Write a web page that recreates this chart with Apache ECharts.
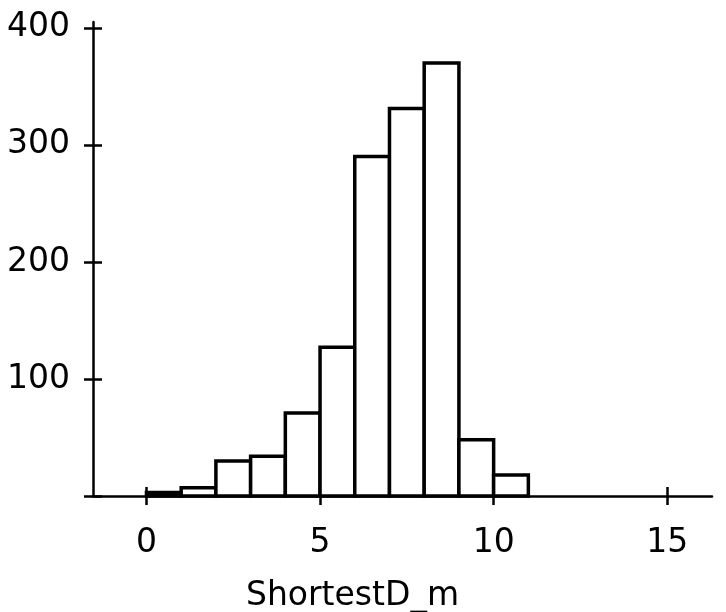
<!DOCTYPE html>
<html>
<head>
<meta charset="utf-8">
<script src="https://cdn.jsdelivr.net/npm/echarts@6/dist/echarts.min.js"></script>
<style>html,body{margin:0;padding:0;background:#fff;}#c{width:726px;height:612px;}</style>
</head>
<body>
<div id="c"></div>
<script>
const binStarts = [0, 1, 2, 3, 4, 5, 6, 7, 8, 9, 10];
const binEnds   = [1, 2, 3, 4, 5, 6, 7, 8, 9, 10, 11];
const counts    = [3, 7, 30, 34, 71, 127, 290, 331, 370, 48, 18];
const xTicks = [0, 5, 10, 15];
const yTicks = [0, 100, 200, 300, 400];
const yLabels = [100, 200, 300, 400];
const xName = 'ShortestD_m';

const data = binStarts.map((s, i) => [s, binEnds[i], counts[i]]);
const FONT = 'DejaVu Sans';
const chart = echarts.init(document.getElementById('c'), null, {renderer: 'canvas'});
const xMin = -1.54, xMax = 16.29, yMin = 0, yMax = 405;
const lineStyle = {color: '#000', width: 2.5};
chart.setOption({
  animation: false,
  backgroundColor: '#fff',
  grid: {left: 93, right: 14, top: 22, bottom: 116, containLabel: false, outerBoundsMode: 'none'},
  xAxis: [{
    type: 'value', min: xMin, max: xMax, position: 'bottom',
    axisLine: {show: true, onZero: false, lineStyle: lineStyle},
    axisTick: {show: true, inside: false, length: 9, lineStyle: lineStyle, customValues: xTicks},
    axisLabel: {show: true, customValues: xTicks, margin: 31, color: '#000', fontFamily: FONT, fontSize: 33},
    splitLine: {show: false},
    name: xName, nameLocation: 'middle', nameGap: 84,
    nameTextStyle: {color: '#000', fontFamily: FONT, fontSize: 33, padding: [0, 100, 0, 0]}
  }, {
    type: 'value', min: xMin, max: xMax, position: 'bottom', offset: 0,
    axisLine: {show: false, onZero: false},
    axisTick: {show: true, inside: true, length: 9, lineStyle: lineStyle, customValues: xTicks},
    axisLabel: {show: false},
    splitLine: {show: false}
  }],
  yAxis: [{
    type: 'value', min: yMin, max: yMax, position: 'left',
    axisLine: {show: true, onZero: false, lineStyle: lineStyle},
    axisTick: {show: true, inside: false, length: 9, lineStyle: lineStyle, customValues: yTicks},
    axisLabel: {show: true, customValues: yLabels, margin: 23, color: '#000', fontFamily: FONT, fontSize: 33},
    splitLine: {show: false}
  }, {
    type: 'value', min: yMin, max: yMax, position: 'left', offset: 0,
    axisLine: {show: false, onZero: false},
    axisTick: {show: true, inside: true, length: 9, lineStyle: lineStyle, customValues: yTicks},
    axisLabel: {show: false},
    splitLine: {show: false}
  }],
  series: [{
    type: 'custom',
    xAxisIndex: 0, yAxisIndex: 0,
    data: data,
    encode: {x: [0, 1], y: 2},
    renderItem: function (params, api) {
      const p0 = api.coord([api.value(0), 0]);
      const p1 = api.coord([api.value(1), api.value(2)]);
      return {
        type: 'rect',
        shape: {x: p0[0], y: p1[1], width: p1[0] - p0[0], height: p0[1] - p1[1]},
        style: {fill: '#fff', stroke: '#000', lineWidth: 3.5}
      };
    }
  }]
});
</script>
</body>
</html>
